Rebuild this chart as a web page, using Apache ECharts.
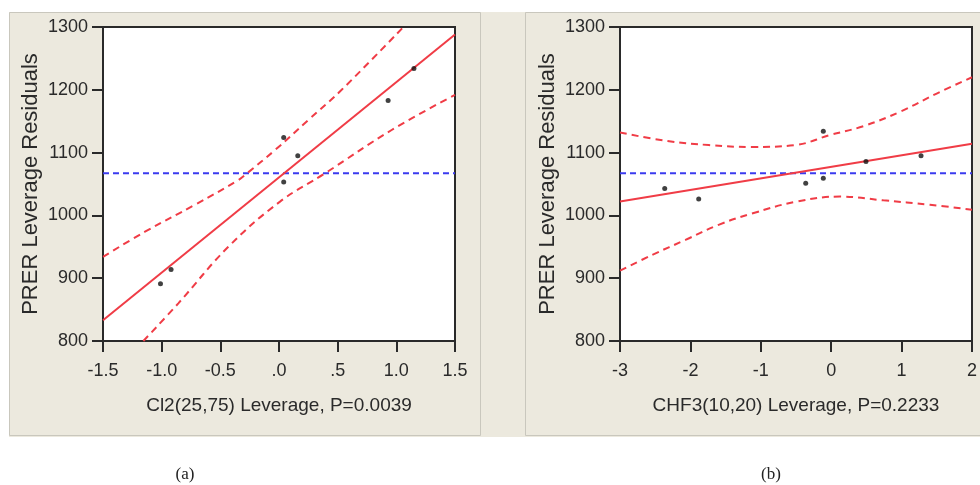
<!DOCTYPE html>
<html>
<head>
<meta charset="utf-8">
<script src="https://cdn.jsdelivr.net/npm/echarts@6/dist/echarts.min.js"></script>
<style>
html,body{margin:0;padding:0;background:#fff;}
#c{width:980px;height:485px;}
</style>
</head>
<body>
<div id="c"></div>
<script>
// ---------- Panel (a): Cl2(25,75) ----------
const xTickLabelsA = ['-1.5', '-1.0', '-0.5', '.0', '.5', '1.0', '1.5'];
const pointsXA = [-1.01, -0.92, 0.04, 0.04, 0.16, 0.93, 1.15];
const pointsYA = [891, 914, 1124, 1053, 1095, 1183, 1234];
const fitXA = [-1.5, 1.5];
const fitYA = [833, 1288];
const upperXA = [-1.5, -1.142, -0.716, -0.349, -0.273, -0.034, 0.25, 0.534, 1.06];
const upperYA = [934, 974, 1017, 1056, 1067, 1104, 1152, 1200, 1300];
const lowerXA = [-1.156, -0.858, -0.432, 0.009, 0.392, 0.96, 1.5];
const lowerYA = [800, 860, 950, 1022, 1067, 1136, 1192];
const meanA = 1067;
const nameA = 'Cl2(25,75) Leverage, P=0.0039';

// ---------- Panel (b): CHF3(10,20) ----------
const xTickLabelsB = ['-3', '-2', '-1', '0', '1', '2'];
const pointsXB = [-2.365, -1.882, -0.362, -0.112, -0.112, 0.494, 1.276];
const pointsYB = [1043, 1026, 1051, 1134, 1059, 1086, 1095];
const fitXB = [-3, 2];
const fitYB = [1022, 1114];
const upperXB = [-3, -2.356, -1.74, -1.125, -0.51, -0.017, 0.456, 0.977, 1.498, 2];
const upperYB = [1132, 1119, 1112, 1109, 1112, 1128, 1142, 1165, 1194, 1220];
const lowerXB = [-3, -2.545, -2.07, -1.6, -1.125, -0.49, 0.125, 0.74, 1.403, 2];
const lowerYB = [912, 937, 961, 985, 1003, 1022, 1030, 1024, 1017, 1009];
const meanB = 1067;
const nameB = 'CHF3(10,20) Leverage, P=0.2233';

const yName = 'PRER Leverage Residuals';
const captions = ['(a)', '(b)'];

const zip = (xs, ys) => xs.map((x, i) => [x, ys[i]]);

const FONT = 'Liberation Sans, Arial, sans-serif';
const AX = '#2a2a2a';
const RED = '#f03c46';
const BLUE = '#3b3bef';

function xAxis(gi, min, max, interval, labels, name) {
  return {
    type: 'value', gridIndex: gi, min: min, max: max, interval: interval,
    name: name, nameLocation: 'middle', nameGap: 55,
    nameTextStyle: {fontFamily: FONT, fontSize: 19, color: AX},
    axisLine: {show: true, onZero: false, lineStyle: {color: AX, width: 2}},
    axisTick: {show: true, length: 11, inside: false, lineStyle: {color: AX, width: 2}},
    axisLabel: {margin: 21, fontFamily: FONT, fontSize: 18, color: AX,
      formatter: v => labels[Math.round((v - min) / interval)]},
    splitLine: {show: false}
  };
}
function yAxis(gi) {
  return {
    type: 'value', gridIndex: gi, min: 800, max: 1300, interval: 100,
    name: yName, nameLocation: 'middle', nameGap: 61,
    nameTextStyle: {fontFamily: FONT, fontSize: 22, color: AX},
    axisLine: {show: true, onZero: false, lineStyle: {color: AX, width: 2}},
    axisTick: {show: true, length: 11, inside: false, lineStyle: {color: AX, width: 2}},
    axisLabel: {margin: 15, fontFamily: FONT, fontSize: 18, color: AX,
      formatter: v => String(v)},
    splitLine: {show: false}
  };
}
function panelSeries(gi, px, py, fx, fy, ux, uy, lx, ly, mean, xmin, xmax) {
  return [
    {type: 'line', xAxisIndex: gi, yAxisIndex: gi, data: [[xmin, mean], [xmax, mean]],
      showSymbol: false, lineStyle: {color: BLUE, width: 2, type: [6, 4]}, z: 2, silent: true},
    {type: 'line', xAxisIndex: gi, yAxisIndex: gi, data: zip(ux, uy), smooth: 0.4,
      showSymbol: false, lineStyle: {color: RED, width: 2, type: [7, 5]}, z: 3, silent: true},
    {type: 'line', xAxisIndex: gi, yAxisIndex: gi, data: zip(lx, ly), smooth: 0.4,
      showSymbol: false, lineStyle: {color: RED, width: 2, type: [7, 5]}, z: 3, silent: true},
    {type: 'line', xAxisIndex: gi, yAxisIndex: gi, data: zip(fx, fy),
      showSymbol: false, lineStyle: {color: RED, width: 2}, z: 4, silent: true},
    {type: 'scatter', xAxisIndex: gi, yAxisIndex: gi, data: zip(px, py),
      symbol: 'circle', symbolSize: 5, itemStyle: {color: '#111'}, z: 5, silent: true}
  ];
}

const chart = echarts.init(document.getElementById('c'), null, {renderer: 'canvas'});
chart.setOption({
  animation: false,
  backgroundColor: '#ffffff',
  graphic: [
    {type: 'rect', shape: {x: 9, y: 12, width: 971, height: 425}, style: {fill: '#ECE9DE'}, z: -10},
    {type: 'rect', shape: {x: 9.5, y: 12.5, width: 471, height: 423}, style: {fill: 'none', stroke: '#c9c7bd', lineWidth: 1}, z: -9},
    {type: 'rect', shape: {x: 525.5, y: 12.5, width: 460, height: 423}, style: {fill: 'none', stroke: '#c9c7bd', lineWidth: 1}, z: -9},
    {type: 'text', x: 185, y: 475, style: {text: captions[0], font: '17px "Liberation Serif", serif', fill: '#222', align: 'center', verticalAlign: 'middle'}},
    {type: 'text', x: 771, y: 475, style: {text: captions[1], font: '17px "Liberation Serif", serif', fill: '#222', align: 'center', verticalAlign: 'middle'}}
  ],
  grid: [
    {left: 103, top: 27, width: 352, height: 314, show: true, backgroundColor: '#fff', borderColor: AX, borderWidth: 2},
    {left: 620, top: 27, width: 352, height: 314, show: true, backgroundColor: '#fff', borderColor: AX, borderWidth: 2}
  ],
  xAxis: [
    xAxis(0, -1.5, 1.5, 0.5, xTickLabelsA, nameA),
    xAxis(1, -3, 2, 1, xTickLabelsB, nameB)
  ],
  yAxis: [yAxis(0), yAxis(1)],
  series: [
    ...panelSeries(0, pointsXA, pointsYA, fitXA, fitYA, upperXA, upperYA, lowerXA, lowerYA, meanA, -1.5, 1.5),
    ...panelSeries(1, pointsXB, pointsYB, fitXB, fitYB, upperXB, upperYB, lowerXB, lowerYB, meanB, -3, 2)
  ]
});
</script>
</body>
</html>
